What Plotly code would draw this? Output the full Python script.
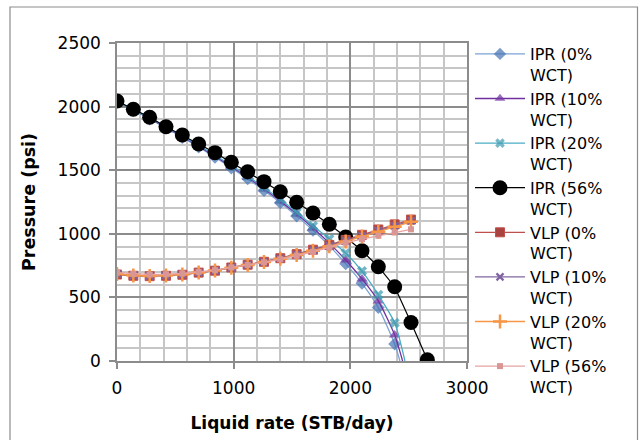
import plotly.graph_objects as go

# ---------------- data ----------------
q_ipr = [0, 140, 280, 420, 560, 700, 840, 980, 1120, 1260, 1400, 1540, 1680,
         1820, 1960, 2100, 2240, 2380]
ipr_0_end_q = 2425
ipr_10_end_q = 2448
ipr_20_end_q = 2468

ipr_0 = [2040, 1972, 1903, 1832, 1758, 1682, 1602, 1518, 1432, 1340, 1244, 1140,
         1028, 905, 765, 611, 420, 134]
ipr_10 = [2040, 1974, 1906, 1836, 1764, 1689, 1610, 1528, 1443, 1352, 1257, 1155,
          1046, 927, 794, 645, 472, 204]
ipr_20 = [2040, 1976, 1909, 1840, 1769, 1695, 1618, 1537, 1453, 1364, 1270, 1170,
          1062, 960, 848, 707, 520, 300]

q_ipr56 = [0, 140, 280, 420, 560, 700, 840, 980, 1120, 1260, 1400, 1540, 1680,
           1820, 1960, 2100, 2240, 2380, 2520, 2660]
ipr_56 = [2044, 1979, 1916, 1842, 1777, 1706, 1638, 1562, 1488, 1410, 1330, 1248,
          1163, 1075, 975, 867, 741, 584, 303, 10]

q_vlp = [0, 140, 280, 420, 560, 700, 840, 980, 1120, 1260, 1400, 1540, 1680,
         1820, 1960, 2100, 2240, 2380, 2520]
vlp_0 = [680, 670, 667, 670, 678, 695, 710, 735, 757, 780, 808, 840, 875, 912,
         952, 992, 1034, 1074, 1112]
vlp_10 = [682, 671, 668, 671, 679, 695, 710, 734, 756, 779, 806, 837, 871, 907,
          946, 985, 1025, 1064, 1102]
vlp_20 = [684, 672, 669, 672, 680, 696, 711, 734, 755, 778, 804, 834, 867, 902,
          940, 978, 1017, 1056, 1094]
vlp_56 = [695, 685, 680, 682, 688, 700, 714, 736, 755, 776, 800, 828, 858, 893,
          930, 958, 985, 1010, 1035]

names = ["IPR (0%<br>WCT)", "IPR (10%<br>WCT)", "IPR (20%<br>WCT)", "IPR (56%<br>WCT)",
         "VLP (0%<br>WCT)", "VLP (10%<br>WCT)", "VLP (20%<br>WCT)", "VLP (56%<br>WCT)"]

FONT = "DejaVu Sans"

fig = go.Figure()

def ipr_trace(qs, ps, q_end, name, lcol, mcol, sym, size):
    x = qs + [q_end]
    y = ps + [0]
    sizes = [size] * len(qs) + [0]
    return go.Scatter(x=x, y=y, name=name, mode="lines+markers",
                      line=dict(color=lcol, width=1.3, shape="spline", smoothing=0.6),
                      marker=dict(symbol=sym, size=sizes, color=mcol,
                                  line=dict(width=0)))

fig.add_trace(ipr_trace(q_ipr, ipr_0, ipr_0_end_q, names[0], "#7BA3D4", "#4472B4", "diamond", 10))
fig.add_trace(ipr_trace(q_ipr, ipr_10, ipr_10_end_q, names[1], "#7030A0", "#7030A0", "triangle-up", 10))
fig.add_trace(ipr_trace(q_ipr, ipr_20, ipr_20_end_q, names[2], "#4BACC6", "#3A98AE", "x", 9))

fig.add_trace(go.Scatter(x=q_ipr56, y=ipr_56, name=names[3], mode="lines+markers",
                         line=dict(color="#000000", width=1.2),
                         marker=dict(symbol="circle", size=15, color="#000000")))

fig.add_trace(go.Scatter(x=q_vlp, y=vlp_0, name=names[4], mode="lines+markers",
                         line=dict(color="#C0504D", width=1.3),
                         marker=dict(symbol="square", size=9, color="#A8433F",
                                     line=dict(color="#C0504D", width=1))))
fig.add_trace(go.Scatter(x=q_vlp, y=vlp_10, name=names[5], mode="lines+markers",
                         line=dict(color="#8064A2", width=1.3),
                         marker=dict(symbol="x-thin-open", size=7,
                                     line=dict(color="#66508A", width=2.2))))
fig.add_trace(go.Scatter(x=q_vlp, y=vlp_20, name=names[6], mode="lines+markers",
                         line=dict(color="#F79646", width=1.3),
                         marker=dict(symbol="cross-thin-open", size=10,
                                     line=dict(color="#E8802E", width=2.5))))
fig.add_trace(go.Scatter(x=q_vlp, y=vlp_56, name=names[7], mode="lines+markers",
                         line=dict(color="#E6A3A2", width=1.3),
                         marker=dict(symbol="square", size=6, color="#D99694")))

L, R, T, B = 117, 172, 43, 79
W, H = 639, 440
pw, ph = W - L - R, H - T - B

fig.update_xaxes(range=[0, 3000], dtick=1000, tick0=0,
                 showgrid=True, gridcolor="#8C8C8C", gridwidth=1.5,
                 minor=dict(dtick=200, showgrid=True, gridcolor="#C6C6C6", gridwidth=1.5),
                 ticks="outside", ticklen=6, tickcolor="#8C8C8C", tickwidth=1.5,
                 ticklabelstandoff=5,
                 showline=True, linecolor="#8C8C8C", linewidth=1.5, mirror=True,
                 zeroline=False,
                 tickfont=dict(family=FONT, size=17, color="#000000"),
                 title=dict(text="<b>Liquid rate (STB/day)</b>",
                            font=dict(family=FONT, size=17, color="#000000"),
                            standoff=20))
fig.update_yaxes(range=[0, 2500], dtick=500, tick0=0,
                 showgrid=True, gridcolor="#8C8C8C", gridwidth=1.5,
                 minor=dict(dtick=100, showgrid=True, gridcolor="#C6C6C6", gridwidth=1.5),
                 ticks="outside", ticklen=6, tickcolor="#8C8C8C", tickwidth=1.5,
                 ticklabelstandoff=5,
                 showline=True, linecolor="#8C8C8C", linewidth=1.5, mirror=True,
                 zeroline=False,
                 tickfont=dict(family=FONT, size=17, color="#000000"),
                 title=dict(text="<b>Pressure (psi)</b>",
                            font=dict(family=FONT, size=17.5, color="#000000"),
                            standoff=17))

# chart-area border
fig.add_shape(type="rect", xref="paper", yref="paper",
              x0=(10 - L) / pw, x1=(637.5 - L) / pw,
              y0=(H - B - 450) / ph, y1=(H - B - 7) / ph,
              line=dict(color="#8C8C8C", width=1.2), fillcolor="rgba(0,0,0,0)",
              layer="below")

fig.update_layout(
    width=W, height=H,
    margin=dict(l=L, r=R, t=T, b=B, autoexpand=False),
    paper_bgcolor="#FFFFFF", plot_bgcolor="#FFFFFF",
    font=dict(family=FONT, size=16, color="#000000"),
    showlegend=True,
    legend=dict(x=(470 - L) / pw, xanchor="left", y=1.0 + 6 / ph, yanchor="top",
                font=dict(family=FONT, size=16, color="#000000"),
                itemwidth=50, valign="top", tracegroupgap=0, maxheight=420,
                bgcolor="rgba(0,0,0,0)", borderwidth=0),
)

fig.write_html("out.html", post_script="document.body.style.margin='0px';",
               config={"displayModeBar": False})
